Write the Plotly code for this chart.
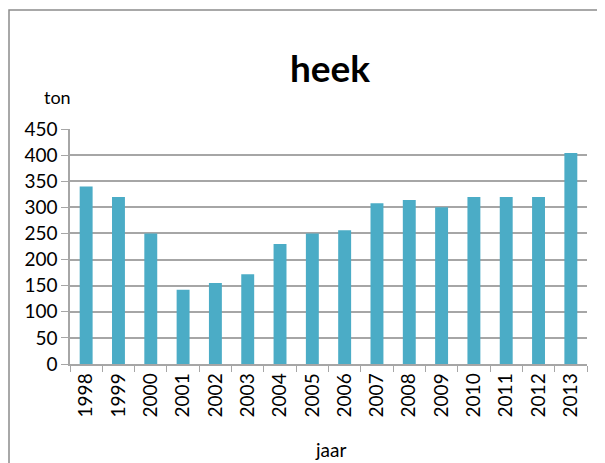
import plotly.graph_objects as go

years = [str(y) for y in range(1998, 2014)]
tons = [340, 320, 250, 142, 155, 172, 230, 250, 256, 308, 314, 300, 320, 320, 320, 404]

bar_color = '#4bacc6'
axis_gray = '#a6a6a6'
font_fam = 'Lato, Open Sans, sans-serif'

fig = go.Figure(
    go.Bar(x=years, y=tons, marker=dict(color=bar_color, line=dict(width=0)), showlegend=False)
)

# the page body adds an 8px offset, so the figure is 8px smaller and
# positions below are screen px minus 8
W, H = 597, 455
ml, mr, mt, mb = 62, 18, 121, 99
pw, ph = W - ml - mr, H - mt - mb

def px_x(x):
    return (x - ml) / pw

def px_y(y):
    return (H - mb - y) / ph

fig.update_layout(
    width=W, height=H,
    margin=dict(l=ml, r=mr, t=mt, b=mb),
    paper_bgcolor='white', plot_bgcolor='white',
    bargap=0.6,
    font=dict(family=font_fam, color='black'),
    title=dict(text='<b>heek</b>', xref='paper', x=px_x(322), xanchor='center',
               y=1 - 61 / H, yanchor='middle',
               font=dict(size=37, family=font_fam)),
)

fig.update_xaxes(
    type='category', tickangle=-90, tickfont=dict(size=19),
    showline=True, linecolor=axis_gray, linewidth=1.5,
    ticks='outside', ticklen=6, tickcolor=axis_gray, tickson='boundaries',
    showgrid=False,
)
fig.update_yaxes(
    range=[0, 450], dtick=50, tickfont=dict(size=19),
    showline=True, linecolor=axis_gray, linewidth=1.5,
    ticks='outside', ticklen=7, tickcolor=axis_gray,
    showgrid=True, gridcolor=axis_gray, gridwidth=1.5, zeroline=False,
)

fig.add_annotation(text='ton', x=px_x(49), y=px_y(89), xref='paper', yref='paper',
                   xanchor='center', yanchor='middle', showarrow=False, font=dict(size=18))
fig.add_annotation(text='jaar', x=px_x(322), y=px_y(442), xref='paper', yref='paper',
                   xanchor='center', yanchor='middle', showarrow=False, font=dict(size=19))

# outer chart frame (right and bottom edges fall outside the picture)
fig.add_shape(type='rect', xref='paper', yref='paper',
              x0=px_x(1), x1=px_x(640), y0=px_y(475), y1=px_y(2),
              line=dict(color='#8c8c8c', width=1.5), layer='below')

fig.write_html('out.html')
